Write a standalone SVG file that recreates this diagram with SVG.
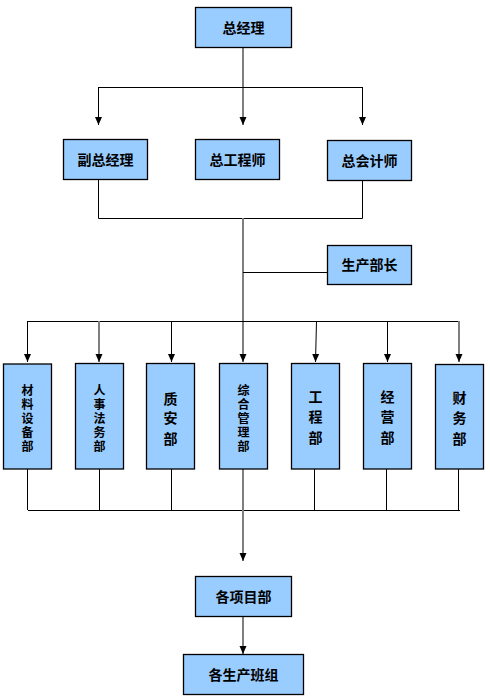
<svg xmlns="http://www.w3.org/2000/svg" width="490" height="700" viewBox="0 0 490 700">
<style>
.box{fill:#99CCFF;stroke:#000;stroke-width:1.3}
.t{font-family:"Noto Sans CJK SC","Liberation Sans",sans-serif;font-size:14px;font-weight:bold;fill:#000;text-anchor:middle}
.v5{font-size:12px}
.l{fill:none;stroke:#000;stroke-width:1}
.g{fill:none;stroke:#7f7f7f;stroke-width:2}
</style>
<defs>
<marker id="ah" viewBox="0 -4 8 8" refX="8" refY="0" markerWidth="8" markerHeight="8" markerUnits="userSpaceOnUse" orient="auto">
<path d="M0,-3.5 L8,0 L0,3.5 z" fill="#000"/>
</marker>
</defs>
<rect width="490" height="700" fill="#fff"/>
<g id="connectors">
<line class="g" x1="243" y1="47.5" x2="243" y2="125" marker-end="url(#ah)"/>
<line class="l" x1="98.5" y1="87.5" x2="362.5" y2="87.5"/>
<line class="l" x1="98.5" y1="87" x2="98.5" y2="125" marker-end="url(#ah)"/>
<line class="l" x1="362.5" y1="87" x2="362.5" y2="125" marker-end="url(#ah)"/>
<line class="l" x1="98.5" y1="179.5" x2="98.5" y2="218.5"/>
<line class="l" x1="362.5" y1="180.5" x2="362.5" y2="218.5"/>
<line class="l" x1="98.5" y1="218.5" x2="362.5" y2="218.5"/>
<line class="g" x1="243" y1="218" x2="243" y2="362" marker-end="url(#ah)"/>
<line class="l" x1="243" y1="272.5" x2="327.5" y2="272.5"/>
<line class="l" x1="27.5" y1="321.5" x2="459" y2="321.5"/>
<line class="l" x1="27.5" y1="321" x2="27.5" y2="362" marker-end="url(#ah)"/>
<line class="g" x1="99" y1="321" x2="99" y2="362" marker-end="url(#ah)"/>
<line class="l" x1="171.5" y1="321" x2="171.5" y2="362" marker-end="url(#ah)"/>
<line class="l" x1="316.5" y1="321" x2="315.5" y2="362" marker-end="url(#ah)"/>
<line class="l" x1="387.5" y1="321" x2="387.5" y2="362" marker-end="url(#ah)"/>
<line class="g" x1="459" y1="321" x2="459" y2="362" marker-end="url(#ah)"/>
<line class="l" x1="27.5" y1="469" x2="27.5" y2="510"/>
<line class="l" x1="99.5" y1="469" x2="99.5" y2="510"/>
<line class="l" x1="171.5" y1="469" x2="171.5" y2="510"/>
<line class="l" x1="314.5" y1="469" x2="314.5" y2="510"/>
<line class="l" x1="386.5" y1="469" x2="386.5" y2="510"/>
<line class="l" x1="458.5" y1="469" x2="458.5" y2="510"/>
<line class="l" x1="28" y1="510.5" x2="460" y2="510.5"/>
<line class="g" x1="243" y1="469" x2="243" y2="561" marker-end="url(#ah)"/>
<line class="g" x1="243" y1="616.5" x2="243" y2="654" marker-end="url(#ah)"/>
</g>
<g id="zongjingli"><rect class="box" x="195.5" y="7.5" width="96" height="40"/><text class="t" x="243.5" y="32.5">总经理</text></g>
<g id="fuzongjingli"><rect class="box" x="63.5" y="139.5" width="84" height="40"/><text class="t" x="105.5" y="164.5">副总经理</text></g>
<g id="zonggongchengshi"><rect class="box" x="195.5" y="139.5" width="84" height="40"/><text class="t" x="237.5" y="164.5">总工程师</text></g>
<g id="zongkuaijishi"><rect class="box" x="327.5" y="140.5" width="84" height="40"/><text class="t" x="369.5" y="165.5">总会计师</text></g>
<g id="shengchanbuzhang"><rect class="box" x="327.5" y="245.5" width="84" height="39"/><text class="t" x="369.5" y="270">生产部长</text></g>
<g id="cailiao"><rect class="box" x="3.5" y="364" width="48" height="105"/><text class="t v5" x="27.5" y="394.5"><tspan x="27.5" y="394.5">材</tspan><tspan x="27.5" y="408.5">料</tspan><tspan x="27.5" y="422.5">设</tspan><tspan x="27.5" y="436.5">备</tspan><tspan x="27.5" y="450.5">部</tspan></text></g>
<g id="renshi"><rect class="box" x="75.5" y="363.5" width="48" height="105.5"/><text class="t v5" x="99.5" y="394.5"><tspan x="99.5" y="394.5">人</tspan><tspan x="99.5" y="408.5">事</tspan><tspan x="99.5" y="422.5">法</tspan><tspan x="99.5" y="436.5">务</tspan><tspan x="99.5" y="450.5">部</tspan></text></g>
<g id="zhian"><rect class="box" x="146.5" y="363.5" width="48" height="105.5"/><text class="t" x="170.5" y="403.5"><tspan x="170.5" y="403.5">质</tspan><tspan x="170.5" y="423">安</tspan><tspan x="170.5" y="443.5">部</tspan></text></g>
<g id="zonghe"><rect class="box" x="219.5" y="363.5" width="48" height="105.5"/><text class="t v5" x="243.5" y="394.5"><tspan x="243.5" y="394.5">综</tspan><tspan x="243.5" y="408.5">合</tspan><tspan x="243.5" y="422.5">管</tspan><tspan x="243.5" y="436.5">理</tspan><tspan x="243.5" y="450.5">部</tspan></text></g>
<g id="gongcheng"><rect class="box" x="291.5" y="363.5" width="48" height="105.5"/><text class="t" x="315.5" y="402"><tspan x="315.5" y="402">工</tspan><tspan x="315.5" y="422">程</tspan><tspan x="315.5" y="443">部</tspan></text></g>
<g id="jingying"><rect class="box" x="363.5" y="363.5" width="48" height="105.5"/><text class="t" x="387.5" y="402"><tspan x="387.5" y="402">经</tspan><tspan x="387.5" y="422">营</tspan><tspan x="387.5" y="443">部</tspan></text></g>
<g id="caiwu"><rect class="box" x="435.5" y="364.5" width="48" height="104.5"/><text class="t" x="459.5" y="403"><tspan x="459.5" y="403">财</tspan><tspan x="459.5" y="423">务</tspan><tspan x="459.5" y="444">部</tspan></text></g>
<g id="xiangmubu"><rect class="box" x="195.5" y="576.5" width="96" height="40"/><text class="t" x="243.5" y="601.5">各项目部</text></g>
<g id="banzu"><rect class="box" x="183.5" y="654.5" width="120" height="40"/><text class="t" x="243.5" y="679.5">各生产班组</text></g>
</svg>
